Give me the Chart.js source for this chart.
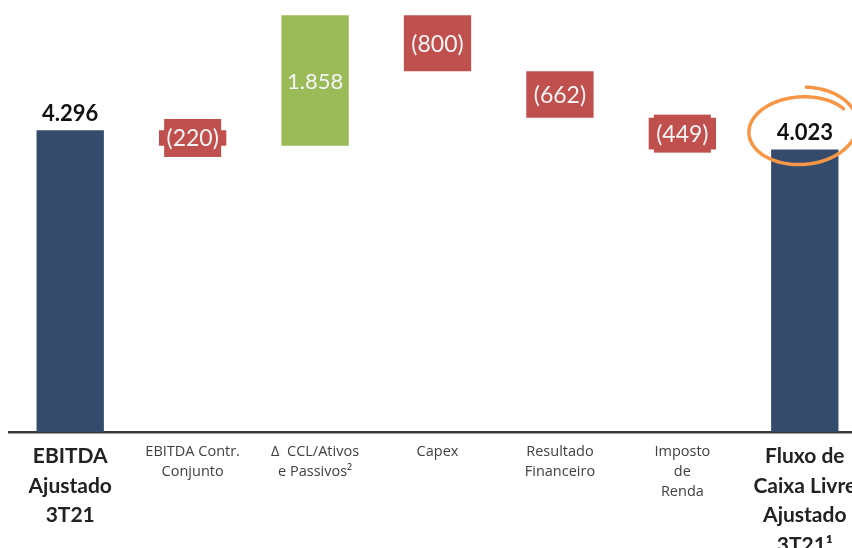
<!DOCTYPE html>
<html>
<head>
<meta charset="utf-8">
<script src="https://cdn.jsdelivr.net/npm/chart.js@4.4.0/dist/chart.umd.min.js"></script>
<style>
  html, body { margin: 0; padding: 0; background: #fff; overflow: hidden; }
  #wrap { width: 852px; height: 548px; overflow: hidden; position: relative; }
  canvas { position: absolute; left: 0; top: 0; }
</style>
</head>
<body>
<div id="wrap"><canvas id="myChart" width="875" height="548"></canvas></div>
<script>
// categorias (eixo x)
const categories = [
	['EBITDA', 'Ajustado', '3T21'],
	['EBITDA Contr.', 'Conjunto'],
	['Δ  CCL/Ativos', 'e Passivos²'],
	['Capex'],
	['Resultado', 'Financeiro'],
	['Imposto', 'de', 'Renda'],
	['Fluxo de', 'Caixa Livre', 'Ajustado', '3T21¹']
];
// valores (R$ milhões)
const values = [4296, -220, 1858, -800, -662, -449, 4023];
const isTotal = [true, false, false, false, false, false, true];

const navy = '#344b6c';
const red = '#c0504d';
const green = '#9bbb59';

// monta as barras flutuantes da cascata
var running = 0;
var ranges = [];
var colors = [];
for (var i = 0; i < values.length; i++) {
	if (isTotal[i]) {
		ranges.push([0, values[i]]);
		running = values[i];
		colors.push(navy);
	} else {
		ranges.push([running, running + values[i]]);
		running += values[i];
		colors.push(values[i] < 0 ? red : green);
	}
}

function fmt(n) {
	return String(Math.abs(n)).replace(/\B(?=(\d{3})+(?!\d))/g, '.');
}

const labelPlugin = {
	id: 'labels',
	afterDatasetsDraw(chart) {
		const ctx = chart.ctx;
		const meta = chart.getDatasetMeta(0);
		ctx.save();
		meta.data.forEach(function (bar, i) {
			const top = Math.min(bar.y, bar.base);
			const bottom = Math.max(bar.y, bar.base);
			const mid = (top + bottom) / 2;
			const v = values[i];
			if (isTotal[i]) {
				ctx.font = 'bold 22px Lato';
				ctx.fillStyle = '#111';
				ctx.textAlign = 'center';
				ctx.textBaseline = 'alphabetic';
				ctx.fillText(fmt(v), bar.x, top - 9);
			} else if (v < 0) {
				ctx.fillStyle = red;
				ctx.fillRect(bar.x - 28.5, mid - 19, 57, 38);
				ctx.font = '23px Lato';
				ctx.fillStyle = '#f4f4f4';
				ctx.textAlign = 'center';
				ctx.textBaseline = 'middle';
				ctx.fillText('(' + fmt(v) + ')', bar.x, mid + 1);
			} else {
				ctx.font = '22px Lato';
				ctx.fillStyle = '#f4f4f4';
				ctx.textAlign = 'center';
				ctx.textBaseline = 'middle';
				ctx.fillText(fmt(v), bar.x, mid + 1);
			}
		});

		// destaque laranja em volta do último total
		const last = meta.data[meta.data.length - 1];
		const cx = last.x - 3, cy = Math.min(last.y, last.base) - 22;
		const rot = -0.1;
		ctx.strokeStyle = '#f79646';
		ctx.lineWidth = 3.5;
		ctx.lineCap = 'round';
		ctx.beginPath();
		const start = -Math.PI / 2 + 0.15;
		const end = start + Math.PI * 2 + 0.9;
		for (var t = start; t <= end; t += 0.05) {
			const k = (t - start) / (end - start);
			const rx = 57 - 6 * k;
			const ry = 40 - 9 * k;
			const ex = rx * Math.cos(t);
			const ey = ry * Math.sin(t) + 2 * k;
			const x = cx + ex * Math.cos(rot) - ey * Math.sin(rot);
			const y = cy + ex * Math.sin(rot) + ey * Math.cos(rot);
			if (t === start) ctx.moveTo(x, y); else ctx.lineTo(x, y);
		}
		ctx.stroke();
		ctx.restore();
	}
};

const ctx = document.getElementById('myChart');
new Chart(ctx, {
	type: 'bar',
	data: {
		labels: categories,
		datasets: [{
			data: ranges,
			backgroundColor: colors,
			borderWidth: 0,
			barPercentage: 1,
			categoryPercentage: 0.55
		}]
	},
	options: {
		responsive: false,
		animation: false,
		layout: { padding: { left: 9, right: 9, top: 0, bottom: 0 } },
		plugins: {
			legend: { display: false },
			tooltip: { enabled: false }
		},
		scales: {
			x: {
				grid: { display: false, drawTicks: false },
				border: { display: true, color: '#3a3a3a', width: 2.5 },
				afterFit: function (scale) { scale.height = 116; },
				ticks: {
					padding: 10,
					maxRotation: 0,
					autoSkip: false,
					color: function (c) { return (c.index === 0 || c.index === 6) ? '#222' : '#404040'; },
					font: function (c) {
						if (c.index === 0 || c.index === 6) {
							return { family: 'Lato', size: 21, weight: 'bold', lineHeight: 1.4 };
						}
						return { family: 'Open Sans', size: 14.5, lineHeight: 1.38 };
					}
				}
			},
			y: {
				display: false,
				min: 0,
				max: 6150
			}
		}
	},
	plugins: [labelPlugin]
});
</script>
</body>
</html>
